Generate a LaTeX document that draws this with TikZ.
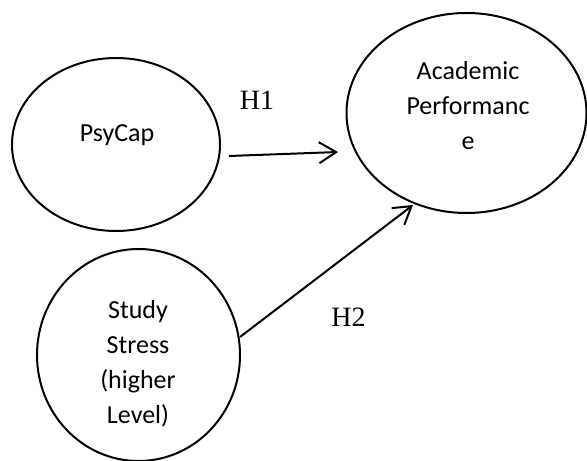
\documentclass[tikz,border=0pt]{standalone}
\usepackage{fontspec}
\setmainfont{Carlito}
\newfontfamily\hfont{Liberation Serif}
\usetikzlibrary{shapes.geometric,arrows.meta}
\tikzset{
  construct/.style={ellipse, draw, line width=2bp, inner sep=0pt},
  ctext/.style={align=center, font=\fontsize{26bp}{35bp}\selectfont, inner sep=0pt},
  hyp/.style={font=\hfont\fontsize{28bp}{30bp}\selectfont, inner sep=0pt},
  path arrow/.style={line width=2bp, -{Straight Barb[length=17bp,width=21bp]}},
}
\begin{document}
\begin{tikzpicture}[x=1bp,y=-1bp]
\useasboundingbox (0,0) rectangle (587,461);
\node[construct, minimum width=208bp, minimum height=173bp] (psy) at (116,144.5) {};
\node[construct, minimum width=203bp, minimum height=212bp] (ss) at (138.5,355) {};
\node[construct, minimum width=240bp, minimum height=200bp] (ap) at (466.5,113) {};
\node[ctext] (psyt) at (117,135) {PsyCap};
\node[ctext] (sst) at (138,363.5) {Study\\Stress\\(higher\\Level)};
\node[ctext] (apt) at (468,106) {Academic\\Performanc\\e};
\coordinate (h1s) at (229,156);
\coordinate (h1e) at (338,152);
\coordinate (h2s) at (240,337);
\coordinate (h2e) at (413,205);
\draw[path arrow] (h1s) -- (h1e);
\draw[path arrow] (h2s) -- (h2e);
\node[hyp] (h1) at (257,100) {H1};
\node[hyp] (h2) at (348.5,317) {H2};
\end{tikzpicture}
\end{document}
